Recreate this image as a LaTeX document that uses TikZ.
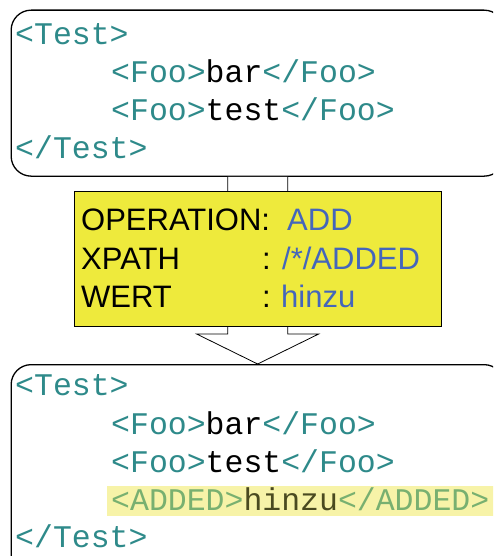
\documentclass[tikz,border=0pt]{standalone}
\usepackage{fontspec}
\setmainfont{Liberation Sans}
\newfontfamily\monofam{Liberation Mono}
\definecolor{tagteal}{HTML}{2E8A8A}
\definecolor{opyellow}{HTML}{EEEA3C}
\definecolor{valblue}{HTML}{4466BB}
\definecolor{hlyellow}{HTML}{F7F3A8}
\definecolor{hltag}{HTML}{78B070}
\definecolor{hltext}{HTML}{4A4A20}
\tikzset{
  codebox/.style={draw=black, line width=1.3pt, rounded corners=20pt, fill=white, inner sep=0pt},
  opbox/.style={draw=black, line width=0.9pt, fill=opyellow, inner sep=0pt},
  codetxt/.style={inner sep=0pt, anchor=base west, font=\monofam\fontsize{31.5}{38}\selectfont},
  optxt/.style={inner sep=0pt, anchor=base west, font=\fontsize{31}{38}\selectfont},
  blockarrow/.style={draw=black, line width=0.8pt, fill=white}
}
\begin{document}
\begin{tikzpicture}[x=1pt,y=-1pt]
\useasboundingbox (0,0) rectangle (493,556);
\clip (0,0) rectangle (493,556);
% boxes
\node[codebox, minimum width=493pt, minimum height=166pt, anchor=north west] (top) at (10.5,9.5) {};
\node[codebox, minimum width=493pt, minimum height=210pt, anchor=north west] (bot) at (10.5,364) {};
% block arrow
\draw[blockarrow] ([xshift=-30pt]top.south) -- ([xshift=-30pt]top.south |- 0,334)
  -- ([xshift=-61pt]top.south |- 0,334) -- (bot.north)
  -- ([xshift=61pt]top.south |- 0,334) -- ([xshift=30pt]top.south |- 0,334)
  -- ([xshift=30pt]top.south);
% operation box
\node[opbox, minimum width=367pt, minimum height=135.5pt, anchor=north west] (op) at (74,190.5) {};
\node[optxt] (op1a) at (81,230) {OPERATION:};
\node[optxt, text=valblue] (op1b) at (287,230) {ADD};
\node[optxt] (op2a) at (81,269) {XPATH};
\node[optxt] (op2c) at (262,269) {:};
\node[optxt, text=valblue] (op2b) at (282,269) {/*/ADDED};
\node[optxt] (op3a) at (81,307) {WERT};
\node[optxt] (op3c) at (262,307) {:};
\node[optxt, text=valblue] (op3b) at (281,307) {hinzu};
% top code
\node[codetxt, text=tagteal] (t1) at (15,45) {<Test>};
\node[codetxt] (t2) at (111,83) {\textcolor{tagteal}{<Foo>}bar\textcolor{tagteal}{</Foo>}};
\node[codetxt] (t3) at (111,120.5) {\textcolor{tagteal}{<Foo>}test\textcolor{tagteal}{</Foo>}};
\node[codetxt, text=tagteal] (t4) at (15,158) {</Test>};
% bottom code
\fill[hlyellow] (107,486) rectangle (500,516);
\node[codetxt, text=tagteal] (b1) at (15,395) {<Test>};
\node[codetxt] (b2) at (111,434) {\textcolor{tagteal}{<Foo>}bar\textcolor{tagteal}{</Foo>}};
\node[codetxt] (b3) at (111,472) {\textcolor{tagteal}{<Foo>}test\textcolor{tagteal}{</Foo>}};
\node[codetxt, text=hltext] (b4) at (111,510) {\textcolor{hltag}{<ADDED>}hinzu\textcolor{hltag}{</ADDED>}};
\node[codetxt, text=tagteal] (b5) at (15,547) {</Test>};
\end{tikzpicture}
\end{document}
